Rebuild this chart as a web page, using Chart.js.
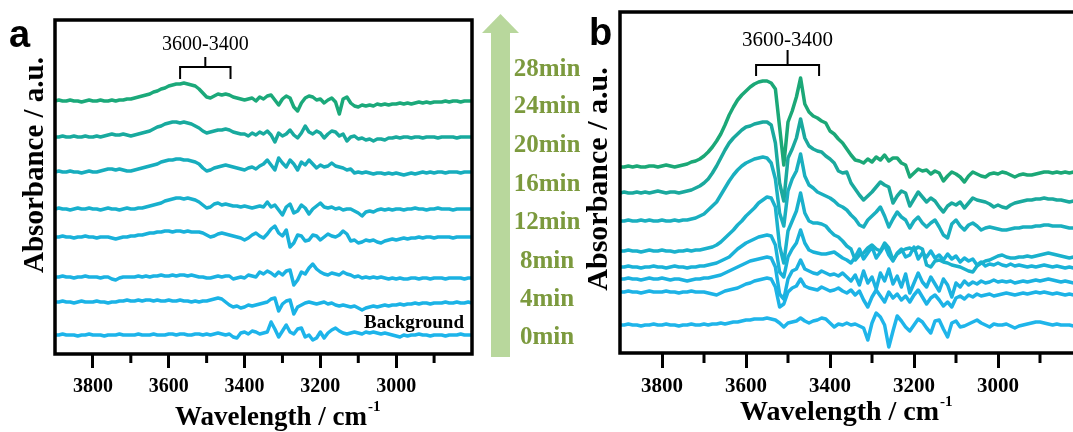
<!DOCTYPE html>
<html>
<head>
<meta charset="utf-8">
<title>In situ IR spectra</title>
<script src="https://cdn.jsdelivr.net/npm/chart.js"></script>
<style>
    body { margin: 0; background: #fff; }
    #wrap { position: relative; width: 1073px; height: 432px; overflow: hidden; background: #fff; }
    canvas { position: absolute; top: 0; }
    #chartA { left: 0; }
    #chartB { left: 575px; }
</style>
</head>
<body>
<div id="wrap">
    <canvas id="chartA" width="590" height="432"></canvas>
    <canvas id="chartB" width="515" height="432"></canvas>
</div>

<script>
    // sampling grid of the spectra, cm-1 (3900 down to 2800, every 10)
    const wavenumbers = [];
    for (let w = 3900; w >= 2800; w -= 10) wavenumbers.push(w);

    const timeLabels = ['28min', '24min', '20min', '16min', '12min', '8min', '4min', '0min'];
    const majorTicks = [3800, 3600, 3400, 3200, 3000];
    const minorTicks = [3700, 3500, 3300, 3100, 2900];

    // panel a: stacking offsets and spectra (a.u.)
    const offsetsA = [253, 217, 182, 145, 117, 77, 52, 19];
    const specA28 = [0,1,0,0,1,0,0,-1,0,1, 0,0,1,0,0,1,0,1,1,2,
        2,3,4,5,6,7,9,10,12,13, 15,16,17,17,18,17,16,15,12,8,
        4,3,5,7,6,7,6,4,3,2, 1,2,3,0,4,2,5,6,1,-4,
        2,5,3,-6,-10,-2,3,5,4,1, 2,-2,1,3,-1,-13,2,4,-2,-5,
        -6,-4,-5,-4,-5,-3,-4,-3,-4,-3, -3,-2,-3,-2,-3,-2,-1,-2,-1,-2,
        -1,-1,-1,0,-1,0,0,-1,0,0,0];
    const specA24 = [0,0,1,0,0,1,0,0,1,0, 0,1,0,1,2,3,2,2,3,2,
        1,2,3,4,5,6,8,10,11,13, 14,15,15,14,15,14,13,11,9,6,
        4,5,6,7,7,8,7,5,4,3, 3,1,4,2,5,3,6,2,-5,4,
        1,3,7,2,-1,4,11,5,3,6, 4,-1,3,6,5,1,3,-4,0,1,
        -2,-1,-3,-2,-4,-2,-2,-3,-1,-1, 0,-1,0,0,-1,0,0,-1,0,0,
        0,-1,0,0,0,0,-1,0,0,0,0];
    const specA20 = [0,1,0,0,1,0,0,-1,0,1, 0,0,1,2,3,3,2,3,2,1,
        1,2,3,4,5,6,7,8,10,11, 12,12,13,13,12,12,11,10,8,4,
        1,2,4,5,6,7,6,5,4,3, 2,4,5,3,6,8,12,7,2,14,
        9,5,12,8,2,10,7,12,8,4, 7,5,6,9,6,5,4,2,3,-1,
        0,-1,0,-1,-2,-1,-1,-2,-1,-2, -1,-2,-3,-2,-1,-2,-1,0,-1,0,
        -1,0,0,-1,0,0,0,-1,0,0,0];
    const specA16 = [0,1,0,0,-1,0,1,0,0,1, 0,0,-1,0,1,0,0,-1,0,1,
        0,0,1,1,2,3,4,5,6,8, 9,10,11,11,10,11,10,9,7,4,
        1,2,5,6,4,5,4,3,3,2, 3,2,1,2,3,2,7,2,4,-1,
        -6,2,5,-4,-2,4,1,-5,0,3, 6,2,1,2,0,1,-1,0,0,-2,
        -4,-7,-3,-2,-3,-1,0,-1,0,-1, 0,0,-1,0,0,1,0,0,-1,0,
        0,1,0,0,0,-1,0,0,0,0,0];
    const specA12 = [0,0,1,0,0,-1,0,0,1,0, 0,-1,0,0,0,-1,-2,-1,0,0,
        1,1,2,2,3,4,4,5,5,6, 6,5,6,6,5,6,5,5,5,4,
        2,0,1,3,4,3,2,1,0,-1, -3,-1,2,4,1,-1,3,8,11,4,
        1,7,-10,-6,2,1,-4,-3,2,1, -3,0,3,1,0,2,6,3,-4,-3,
        -6,-5,-3,-4,-3,-5,-6,-4,-3,-2, -3,-2,-1,-2,-1,-1,0,-1,0,0,
        -1,0,0,0,0,-1,0,0,0,0,0];
    const specA8 = [0,0,1,0,0,-1,0,0,1,0, 0,0,-1,0,0,-2,-3,-1,0,0,
        0,0,1,0,1,0,1,1,2,1, 1,2,1,2,2,1,2,1,0,0,
        -1,-1,0,1,0,1,1,-2,-1,0, -1,2,1,0,5,3,6,4,1,5,
        2,6,7,-8,-3,5,3,9,13,8, 5,3,2,4,3,2,5,3,2,0,
        1,-1,0,-1,0,-1,0,-1,-2,-1, -2,-1,-2,-2,-1,-1,-2,-1,-1,-2,
        -1,-1,-1,-2,-1,-1,-1,-1,-2,-1,-1];
    const specA4 = [0,0,1,0,0,-1,0,1,0,0, 0,1,0,0,-1,0,0,1,1,2,
        1,1,2,1,2,2,1,2,1,1, 2,1,1,2,1,1,0,1,0,1,
        1,2,3,4,3,0,-3,-5,-4,-6, -5,-3,-4,-3,-2,-1,0,3,4,-9,
        -2,1,2,-12,-5,-3,-1,0,-1,-2, -1,0,-2,-1,-3,-4,-3,-4,-5,-4,
        -6,-8,-6,-5,-4,-5,-4,-3,-4,-3, -3,-2,-3,-2,-2,-1,-2,-1,-1,-2,
        -1,-1,-1,0,-1,-1,0,-1,-1,0,-1];
    const specA0 = [0,0,1,0,0,0,-1,0,0,1, 0,0,0,-1,0,0,0,1,0,0,
        0,0,1,0,0,0,1,0,0,0, 1,1,0,1,1,0,0,1,1,0,
        1,0,1,2,1,0,1,-2,-3,2, 3,1,4,3,1,2,3,13,6,-2,
        4,10,3,1,6,7,-2,0,-5,-3, 3,-3,2,5,7,4,2,1,2,3,
        2,1,3,2,3,2,1,2,1,0, -1,-2,0,-1,0,0,1,0,0,-1,
        0,0,0,-1,0,0,0,1,0,0,0];

    // panel b: stacking offsets and spectra (a.u.)
    const offsetsB = [186, 160, 132, 102, 86, 74, 61, 28];
    const specB28 = [0,0,1,0,1,0,0,1,1,0, 1,2,1,0,1,2,3,5,6,8,
        11,15,20,26,33,42,52,60,67,72, 76,80,83,85,86,86,84,78,40,2,
        45,56,70,89,63,55,51,49,46,44, 36,33,28,24,18,12,7,6,4,8,
        5,10,7,12,6,9,9,4,2,-10, -6,-2,-4,-3,-7,-4,-6,-14,-9,-5,
        -7,-10,-15,-9,-5,-7,-9,-10,-7,-6, -7,-5,-6,-8,-10,-8,-7,-8,-8,-7,
        -6,-5,-5,-6,-5,-6,-5,-6,-5,-6,-5];
    const specB24 = [0,1,0,0,1,0,1,0,1,2, 1,0,1,1,0,1,2,3,5,7,
        10,14,20,27,35,43,50,55,59,63, 66,67,69,70,71,71,68,50,10,-8,
        35,44,55,74,55,47,44,42,41,37, 34,30,22,20,21,10,4,-2,-7,-3,
        1,6,11,8,6,-10,-3,2,0,-13, -6,1,-4,-9,-5,-8,-14,-19,-13,-10,
        -12,-9,-15,-10,-5,-7,-8,-9,-11,-14, -12,-14,-15,-12,-10,-9,-8,-7,-7,-6,
        -6,-5,-6,-6,-7,-7,-8,-9,-8,-9,-9];
    const specB20 = [0,0,1,0,0,1,0,1,0,0, 1,0,0,1,0,1,1,2,3,5,
        7,11,15,19,26,33,40,46,51,55, 58,60,62,63,64,63,58,42,8,-5,
        30,42,50,67,45,36,33,29,27,25, 23,20,16,14,11,6,2,-4,-6,1,
        5,9,14,5,-6,2,9,4,1,-7, 0,4,-2,-6,-2,1,-6,-14,-17,-3,
        1,-5,-9,-4,-2,-5,-9,-7,-6,-7, -8,-9,-9,-8,-7,-7,-6,-6,-6,-5,
        -5,-4,-4,-5,-5,-5,-6,-7,-7,-8,-8];
    const specB16 = [0,0,1,0,0,-1,0,1,0,0, 1,0,0,-1,0,0,1,0,1,1,
        2,3,4,6,9,13,17,21,26,30, 35,39,43,48,51,54,53,44,5,-12,
        20,30,40,58,38,30,28,28,27,25, 20,16,14,10,5,2,-9,-4,-2,3,
        6,2,0,8,3,-9,-3,0,2,3, 1,4,2,-14,-16,-10,-9,-11,-12,-14,
        -15,-16,-18,-20,-21,-15,-12,-10,-9,-7, -5,-4,-6,-7,-7,-6,-6,-5,-6,-5,
        -4,-3,-2,-3,-4,-5,-6,-7,-6,-7,-7];
    const specB12 = [0,0,1,0,0,-1,0,0,1,0, 0,-1,0,1,0,0,-1,0,0,1,
        1,2,3,4,6,8,10,14,18,21, 24,26,28,30,31,32,31,22,-5,-10,
        10,18,24,37,24,17,15,14,13,13, 14,15,12,9,7,4,10,18,8,14,
        20,9,15,22,12,6,14,18,10,12, 20,8,14,10,16,9,12,7,13,8,
        11,5,9,6,8,2,5,1,3,2, 4,2,1,3,1,2,1,0,1,0,
        1,2,1,0,1,0,-1,0,-1,-1,-1];
    const specB8 = [0,0,1,0,0,-1,0,1,0,0, 1,0,-1,0,0,-1,-2,-1,0,0,
        1,1,2,3,4,6,8,10,12,14, 16,18,19,20,21,22,21,12,-15,-20,
        0,8,10,19,10,8,6,5,8,6, 4,5,3,6,2,-2,4,-6,8,-4,
        2,-10,6,-2,10,-5,3,-8,5,-14, -4,6,-3,-8,2,-5,-12,0,-6,-18,
        -4,-8,-2,-6,-3,-5,-2,-4,-3,-1, -3,-2,-3,-2,-4,-3,-2,-3,-2,-1,
        -2,-1,0,-1,-2,-3,-2,-3,-4,-3,-4];
    const specB4 = [0,0,1,0,0,-1,0,1,0,0, 0,1,0,0,-1,0,0,1,0,0,
        0,-1,-2,-3,-1,1,2,3,4,6, 8,9,11,12,13,14,13,5,-15,-12,
        0,4,6,13,6,4,3,2,5,3, 1,2,4,1,-1,2,-3,1,-8,-15,
        -5,2,-4,-10,0,-6,-2,-8,-4,-10, -3,2,-5,-12,-6,-3,-8,-14,-10,-15,
        -6,-4,-7,-3,-5,-2,-4,-3,-2,-4, -3,-2,-1,-2,-3,-2,-1,-2,-1,0,
        -1,0,-1,-2,-1,-2,-3,-2,-3,-3,-3];
    const specB0 = [0,0,1,0,0,-1,0,0,1,0, 0,1,0,0,-1,0,0,1,0,0,
        1,0,1,1,2,1,2,3,3,4, 5,5,6,6,6,7,6,5,2,-2,
        2,3,4,7,4,2,4,5,7,6, 2,-2,1,0,2,0,1,-1,-3,-15,
        2,12,8,0,-22,-6,9,4,-2,-6, 0,6,3,-3,-8,4,5,-4,-12,2,
        4,-2,-1,1,3,5,2,0,-2,1, 0,0,1,-1,-3,-1,0,1,2,3,
        3,2,1,0,1,0,0,0,-1,0,0];

    const colorsA = ['#1ba97a', '#18aa9e', '#17adbd', '#18b0cd', '#19b1da', '#1bb2e2', '#1bb3e6', '#1db4ea'];
    const colorsB = ['#1ba877', '#1aa99e', '#1aafbf', '#1ab1cc', '#1ab2d8', '#1cb2e0', '#1db3e6', '#1fb5ea'];

    const serif = '"Liberation Serif", "Times New Roman", serif';
    const sans = '"Liberation Sans", Arial, sans-serif';

    function isMajor(v) {
        return majorTicks.includes(v);
    }

    // frame, minor ticks, titles and annotations
    const figurePlugin = {
        id: 'figure',
        afterDraw(chart, args, o) {
            const ctx = chart.ctx;
            const a = chart.chartArea;
            const xs = chart.scales.x;
            ctx.save();
            ctx.strokeStyle = '#000';
            ctx.fillStyle = '#000';
            ctx.lineWidth = 3.5;
            ctx.strokeRect(a.left, a.top, a.right - a.left, a.bottom - a.top);

            ctx.lineWidth = 3;
            minorTicks.forEach(v => {
                const px = xs.getPixelForValue(v);
                ctx.beginPath();
                ctx.moveTo(px, a.bottom);
                ctx.lineTo(px, a.bottom + o.minorLength);
                ctx.stroke();
            });

            // panel letter
            ctx.font = 'bold 38px ' + sans;
            ctx.textAlign = 'left';
            ctx.textBaseline = 'alphabetic';
            ctx.fillText(o.letter, o.letterX, o.letterY);

            // x title with superscript
            ctx.font = 'bold ' + o.titleSize + 'px ' + serif;
            ctx.fillText('Wavelength / cm', o.xTitleX, o.xTitleY);
            const tw = ctx.measureText('Wavelength / cm').width;
            ctx.font = 'bold 15px ' + serif;
            ctx.fillText('-1', o.xTitleX + tw + 1, o.xTitleY - 14);

            // y title
            ctx.save();
            ctx.translate(o.yTitleX, o.yTitleY);
            ctx.rotate(-Math.PI / 2);
            ctx.textAlign = 'center';
            ctx.font = 'bold ' + o.yTitleSize + 'px ' + serif;
            ctx.fillText('Absorbance / a.u.', 0, 0);
            ctx.restore();

            // 3600-3400 bracket
            const b = o.bracket;
            const x1 = xs.getPixelForValue(b.range[0]);
            const x2 = xs.getPixelForValue(b.range[1]);
            const xm = (x1 + x2) / 2;
            ctx.lineWidth = 2;
            ctx.beginPath();
            ctx.moveTo(x1, b.legY); ctx.lineTo(x1, b.y); ctx.lineTo(x2, b.y); ctx.lineTo(x2, b.legY);
            ctx.moveTo(xm, b.y); ctx.lineTo(xm, b.stemY);
            ctx.stroke();
            ctx.font = b.fontSize + 'px ' + serif;
            ctx.textAlign = 'center';
            ctx.textBaseline = 'middle';
            ctx.fillText('3600-3400', xm, b.labelY);

            if (o.background) {
                ctx.font = 'bold 19px ' + serif;
                ctx.textAlign = 'right';
                ctx.textBaseline = 'alphabetic';
                ctx.fillText('Background', 464, 328);
            }

            if (o.timeArrow) {
                // time arrow between the panels
                ctx.fillStyle = '#b8d79c';
                ctx.fillRect(491, 32, 19, 325);
                ctx.beginPath();
                ctx.moveTo(482, 33); ctx.lineTo(500.5, 14); ctx.lineTo(519, 33);
                ctx.closePath();
                ctx.fill();
                ctx.fillStyle = '#7c9a3e';
                ctx.font = 'bold 25px ' + serif;
                ctx.textAlign = 'center';
                ctx.textBaseline = 'middle';
                const ys = [70, 107, 146, 185, 223, 262, 300, 338];
                timeLabels.forEach((t, k) => ctx.fillText(t, 547, ys[k]));
            }
            ctx.restore();
        }
    };

    function makeChart(id, spectra, offsets, colors, cfg) {
        const datasets = spectra.map((s, k) => ({
            label: timeLabels[k],
            data: s.map((v, i) => ({ x: wavenumbers[i], y: v + offsets[k] })),
            borderColor: colors[k],
            borderWidth: 3.5,
            borderJoinStyle: 'round',
            pointRadius: 0,
            tension: 0,
            fill: false
        }));
        return new Chart(document.getElementById(id), {
            type: 'line',
            data: { datasets: datasets },
            options: {
                responsive: false,
                animation: false,
                devicePixelRatio: 1,
                layout: { padding: cfg.padding },
                plugins: {
                    legend: { display: false },
                    tooltip: { enabled: false },
                    figure: cfg.figure
                },
                scales: {
                    x: {
                        type: 'linear',
                        reverse: true,
                        min: 2800,
                        max: 3900,
                        afterFit: s => { s.height = cfg.xHeight; },
                        border: { display: false },
                        grid: {
                            drawOnChartArea: false,
                            tickLength: cfg.tickLength,
                            tickWidth: 3,
                            tickColor: c => (c.tick && isMajor(c.tick.value)) ? '#000' : 'rgba(0,0,0,0)'
                        },
                        ticks: {
                            stepSize: 100,
                            autoSkip: false,
                            maxRotation: 0,
                            padding: cfg.tickPad,
                            color: '#000',
                            font: { family: serif, size: cfg.tickFont, weight: 'bold' },
                            callback: v => isMajor(v) ? String(v) : ''
                        }
                    },
                    y: { display: false, min: 0, max: cfg.yMax }
                }
            },
            plugins: [figurePlugin]
        });
    }

    makeChart('chartA', [specA28, specA24, specA20, specA16, specA12, specA8, specA4, specA0], offsetsA, colorsA, {
        padding: { left: 55, top: 20, right: 118, bottom: 0 },
        xHeight: 78, yMax: 334, tickLength: 14, tickPad: 7, tickFont: 20,
        figure: {
            minorLength: 9, letter: 'a', letterX: 9, letterY: 47, titleSize: 27, yTitleSize: 29,
            xTitleX: 175, xTitleY: 425, yTitleX: 43, yTitleY: 165,
            bracket: { range: [3570, 3437], y: 67, legY: 79, stemY: 57, labelY: 45, fontSize: 20 },
            background: true, timeArrow: true
        }
    });

    makeChart('chartB', [specB28, specB24, specB20, specB16, specB12, specB8, specB4, specB0], offsetsB, colorsB, {
        padding: { left: 45, top: 12, right: 8, bottom: 0 },
        xHeight: 79, yMax: 341, tickLength: 15, tickPad: 6, tickFont: 21,
        figure: {
            minorLength: 10, letter: 'b', letterX: 14, letterY: 45, titleSize: 28, yTitleSize: 30,
            xTitleX: 165, xTitleY: 420, yTitleX: 32, yTitleY: 179,
            bracket: { range: [3576, 3426], y: 65, legY: 76, stemY: 50, labelY: 40, fontSize: 21 },
            background: false, timeArrow: false
        }
    });
</script>
</body>
</html>
